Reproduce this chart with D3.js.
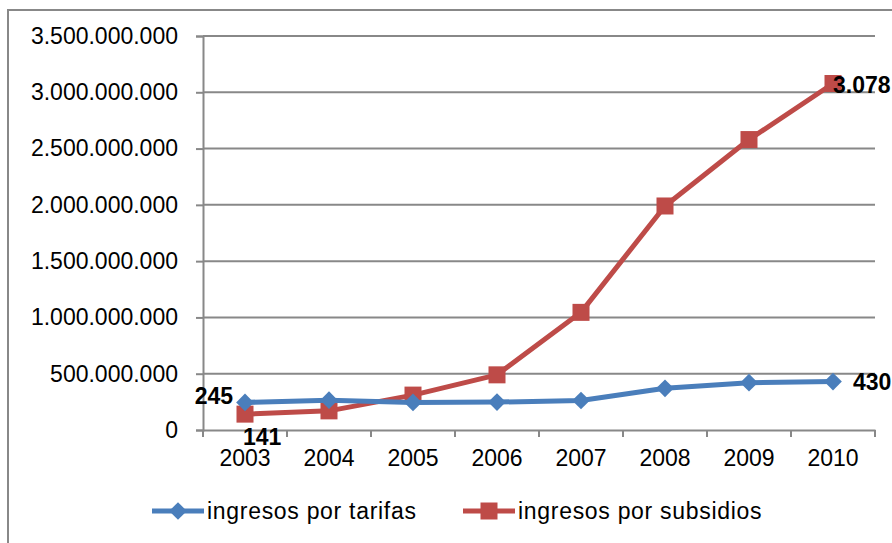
<!DOCTYPE html>
<html>
<head>
<meta charset="utf-8">
<script src="https://cdn.jsdelivr.net/npm/d3@7"></script>
<style>
  body { margin: 0; background: #fff; }
  svg { display: block; font-family: "Liberation Sans", Arial, sans-serif; }
</style>
</head>
<body>
<svg id="chart" width="892" height="543"></svg>
<script>
// chart data
var years = ["2003", "2004", "2005", "2006", "2007", "2008", "2009", "2010"];
var tarifas = [245, 265, 245, 248, 262, 370, 420, 430];        // millions
var subsidios = [141, 170, 310, 490, 1045, 1990, 2580, 3078];  // millions
var yTicks = [0, 500000000, 1000000000, 1500000000, 2000000000, 2500000000, 3000000000, 3500000000];
var seriesNames = ["ingresos por tarifas", "ingresos por subsidios"];

(function() {
var svg = d3.select("#chart"),
  plotLeft = 203, plotRight = 875, plotTop = 36, plotBottom = 430,
  blue = "#4a7ebb", red = "#be4b48", grid = "#888888";

// outer chart border
svg.append("rect")
  .attr("x", 8).attr("y", 10).attr("width", 950).attr("height", 600)
  .attr("fill", "none").attr("stroke", grid).attr("stroke-width", 2);

var x = d3.scaleBand().domain(years).range([plotLeft, plotRight]);
var y = d3.scaleLinear().domain([0, 3500000000]).range([plotBottom, plotTop]);

var fmt = function(v) {
  return v === 0 ? "0" : d3.format(",")(v).replace(/,/g, ".");
};

// gridlines
svg.append("g").selectAll("line")
  .data(yTicks.slice(1))
  .enter().append("line")
  .attr("x1", plotLeft).attr("x2", plotRight)
  .attr("y1", function(d){ return y(d); })
  .attr("y2", function(d){ return y(d); })
  .attr("stroke", grid).attr("stroke-width", 2);

// y axis
var yAxis = svg.append("g")
  .attr("transform", "translate(" + plotLeft + ",0)")
  .call(d3.axisLeft(y).tickValues(yTicks).tickFormat(fmt).tickSize(7).tickPadding(18));
yAxis.select(".domain").attr("stroke", grid).attr("stroke-width", 2);
yAxis.selectAll(".tick line").attr("stroke", grid).attr("stroke-width", 2);
yAxis.selectAll(".tick text")
  .attr("font-size", 23).attr("fill", "#000")
  .attr("font-family", "Liberation Sans, Arial, sans-serif");

// x axis: ticks at band boundaries
var xAxis = svg.append("g")
  .attr("transform", "translate(0," + plotBottom + ")")
  .call(d3.axisBottom(x).tickSize(0).tickPadding(20));
xAxis.select(".domain").attr("stroke", grid).attr("stroke-width", 2);
xAxis.selectAll(".tick text")
  .attr("font-size", 23).attr("fill", "#000")
  .attr("font-family", "Liberation Sans, Arial, sans-serif");
svg.append("g").selectAll("line")
  .data(years.concat(["end"]))
  .enter().append("line")
  .attr("x1", function(d, i){ return plotLeft + i * x.bandwidth(); })
  .attr("x2", function(d, i){ return plotLeft + i * x.bandwidth(); })
  .attr("y1", plotBottom).attr("y2", plotBottom + 7)
  .attr("stroke", grid).attr("stroke-width", 2);

var cx = function(d, i){ return x(years[i]) + x.bandwidth() / 2; };
var line = d3.line()
  .x(function(d, i){ return cx(d, i); })
  .y(function(d){ return y(d * 1000000); });

// subsidios (red, squares)
svg.append("path").datum(subsidios)
  .attr("d", line).attr("fill", "none")
  .attr("stroke", red).attr("stroke-width", 5).attr("stroke-linejoin", "round");
svg.append("g").selectAll("rect")
  .data(subsidios).enter().append("rect")
  .attr("x", function(d, i){ return cx(d, i) - 8.5; })
  .attr("y", function(d){ return y(d * 1000000) - 8.5; })
  .attr("width", 17).attr("height", 17).attr("fill", red);

// tarifas (blue, diamonds)
var diamond = d3.symbol().type(d3.symbolDiamond2).size(200);
svg.append("path").datum(tarifas)
  .attr("d", line).attr("fill", "none")
  .attr("stroke", blue).attr("stroke-width", 5).attr("stroke-linejoin", "round");
svg.append("g").selectAll("path")
  .data(tarifas).enter().append("path")
  .attr("d", diamond)
  .attr("transform", function(d, i){ return "translate(" + cx(d, i) + "," + y(d * 1000000) + ")"; })
  .attr("fill", blue);

// data labels (first and last only)
var labels = [
  { v: tarifas[0], i: 0, dx: -12, dy: 2, anchor: "end" },
  { v: subsidios[0], i: 0, dx: -2, dy: 31, anchor: "start" },
  { v: tarifas[7], i: 7, dx: 20, dy: 8, anchor: "start" },
  { v: subsidios[7], i: 7, dx: 0, dy: 9, anchor: "start" }
];
svg.append("g").selectAll("text")
  .data(labels).enter().append("text")
  .attr("x", function(d){ return cx(d, d.i) + d.dx; })
  .attr("y", function(d){ return y(d.v * 1000000) + d.dy; })
  .attr("text-anchor", function(d){ return d.anchor; })
  .attr("font-size", 23).attr("font-weight", "bold")
  .text(function(d){ return fmt(d.v); });

// legend
var legend = svg.append("g").attr("transform", "translate(0,511)");
var items = legend.selectAll("g")
  .data(seriesNames).enter().append("g")
  .attr("transform", function(d, i){ return "translate(" + (i === 0 ? 152 : 463) + ",0)"; });
items.append("line")
  .attr("x1", 0).attr("x2", 52).attr("y1", 0).attr("y2", 0)
  .attr("stroke", function(d, i){ return i === 0 ? blue : red; })
  .attr("stroke-width", 5);
items.append("path")
  .attr("d", function(d, i){
    return i === 0 ? diamond() : d3.symbol().type(d3.symbolSquare).size(289)();
  })
  .attr("transform", "translate(26,0)")
  .attr("fill", function(d, i){ return i === 0 ? blue : red; });
items.append("text")
  .attr("x", 55).attr("y", 8)
  .attr("font-size", 23).attr("letter-spacing", 0.7)
  .text(function(d){ return d; });
})();
</script>
</body>
</html>
